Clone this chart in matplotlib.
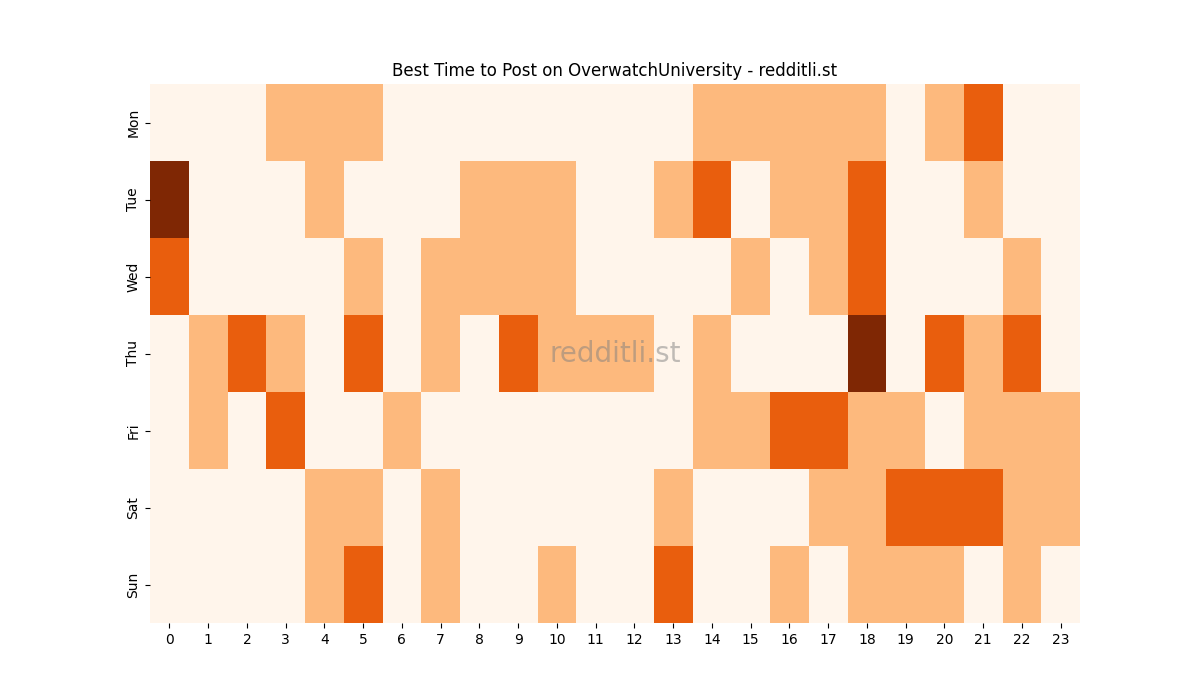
import matplotlib
matplotlib.use("Agg")
import matplotlib.pyplot as plt
import numpy as np
import seaborn as sns

days = ["Mon", "Tue", "Wed", "Thu", "Fri", "Sat", "Sun"]
hours = list(range(24))

# activity level per hour (0 = low ... 3 = best)
mon = [0, 0, 0, 1, 1, 1, 0, 0, 0, 0, 0, 0, 0, 0, 1, 1, 1, 1, 1, 0, 1, 2, 0, 0]
tue = [3, 0, 0, 0, 1, 0, 0, 0, 1, 1, 1, 0, 0, 1, 2, 0, 1, 1, 2, 0, 0, 1, 0, 0]
wed = [2, 0, 0, 0, 0, 1, 0, 1, 1, 1, 1, 0, 0, 0, 0, 1, 0, 1, 2, 0, 0, 0, 1, 0]
thu = [0, 1, 2, 1, 0, 2, 0, 1, 0, 2, 1, 1, 1, 0, 1, 0, 0, 0, 3, 0, 2, 1, 2, 0]
fri = [0, 1, 0, 2, 0, 0, 1, 0, 0, 0, 0, 0, 0, 0, 1, 1, 2, 2, 1, 1, 0, 1, 1, 1]
sat = [0, 0, 0, 0, 1, 1, 0, 1, 0, 0, 0, 0, 0, 1, 0, 0, 0, 1, 1, 2, 2, 2, 1, 1]
sun = [0, 0, 0, 0, 1, 2, 0, 1, 0, 0, 1, 0, 0, 2, 0, 0, 1, 0, 1, 1, 1, 0, 1, 0]

grid = np.array([mon, tue, wed, thu, fri, sat, sun])

fig, ax = plt.subplots(figsize=(12, 7), dpi=100)
sns.heatmap(grid, cmap="Oranges", cbar=False, ax=ax,
            xticklabels=hours, yticklabels=days)
ax.set_yticklabels(days, rotation=90, va="center")
ax.set_xticklabels(hours, rotation=0)
ax.set_title("Best Time to Post on OverwatchUniversity - redditli.st")
ax.text(0.5, 0.5, "redditli.st", transform=ax.transAxes, fontsize=20,
        color="grey", alpha=0.5, ha="center", va="center")
plt.savefig("out.png")
